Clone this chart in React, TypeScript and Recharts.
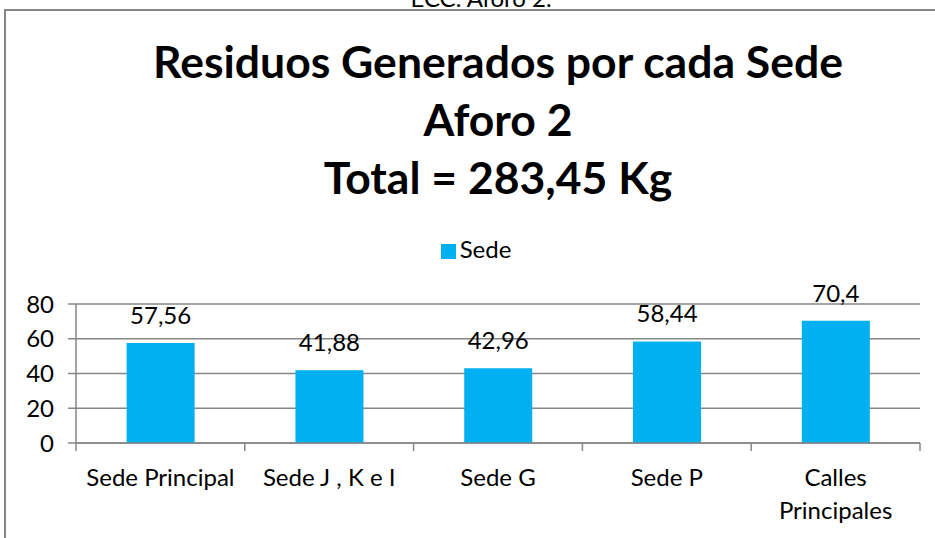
import { BarChart, Bar, XAxis, YAxis, CartesianGrid, Legend, LabelList } from 'recharts';

const categories = ['Sede Principal', 'Sede J , K e I', 'Sede G', 'Sede P', 'Calles Principales'];
const sedeValues = [57.56, 41.88, 42.96, 58.44, 70.4];
const yTicks = [0, 20, 40, 60, 80];
const titleLines = ['Residuos Generados por cada Sede', 'Aforo 2', 'Total = 283,45 Kg'];

const data = categories.map((name, i) => ({ name, sede: sedeValues[i] }));

const FONT = 'Lato, "Open Sans", sans-serif';
const GRID = '#868686';
const X_TICK_MARGIN = 26;

const fmt = (v: any) => String(v).replace('.', ',');

// category label plus the tick marks at the category boundaries
const CategoryTick = (props: any) => {
  const { x, y, payload, index, visibleTicksCount } = props;
  const label = String(payload.value);
  const lines = label.length > 16 ? label.split(' ') : [label];
  const half = payload.offset || 0;
  const axisY = y - X_TICK_MARGIN;
  const isLast = index === visibleTicksCount - 1;
  return (
    <g>
      {half > 0 && <line x1={x - half} x2={x - half} y1={axisY} y2={axisY + 8} stroke={GRID} strokeWidth={1.5} />}
      {half > 0 && isLast && <line x1={x + half} x2={x + half} y1={axisY} y2={axisY + 8} stroke={GRID} strokeWidth={1.5} />}
      <text x={x} y={y} textAnchor="middle" fill="#000" style={{ fontSize: 24, fontFamily: FONT }}>
        {lines.map((l, i) => (
          <tspan key={i} x={x} dy={i === 0 ? '0.71em' : 33}>{l}</tspan>
        ))}
      </text>
    </g>
  );
};

export default function App() {
  return (
    <div style={{ position: 'absolute', left: 0, top: 0, width: 935, height: 538, overflow: 'hidden', background: '#fff', fontFamily: FONT }}>
      {/* clipped caption above the frame */}
      <div style={{ position: 'absolute', top: -17, left: 0, width: 962, textAlign: 'center', fontSize: 24, color: '#000' }}>
        ECC. Aforo 2.
      </div>
      {/* chart frame */}
      <div style={{ position: 'absolute', left: 4, top: 9, width: 940, height: 540, borderLeft: `2px solid ${GRID}`, borderTop: `2px solid ${GRID}` }} />
      {titleLines.map((t, i) => (
        <div key={i} style={{ position: 'absolute', left: 0, width: 996, top: 35 + i * 58, textAlign: 'center', fontSize: 44.5, fontWeight: 700, lineHeight: '52px', color: '#000' }}>
          {t}
        </div>
      ))}
      <div style={{ position: 'absolute', left: 0, top: 0 }}>
        <BarChart width={935} height={538} data={data} margin={{ top: 275, right: 15, bottom: 0, left: 0 }} barCategoryGap="30%">
          <CartesianGrid vertical={false} stroke={GRID} strokeWidth={1.5} />
          <XAxis dataKey="name" height={95} tickLine={false} tickSize={0} tickMargin={X_TICK_MARGIN} axisLine={{ stroke: GRID, strokeWidth: 1.5 }} tick={<CategoryTick />} interval={0} />
          <YAxis domain={[0, 80]} ticks={yTicks} interval={0} width={76} tickSize={8} tickMargin={14} axisLine={{ stroke: GRID, strokeWidth: 1.5 }} tickLine={{ stroke: GRID, strokeWidth: 1.5 }} tick={{ fontSize: 24, fill: '#000', fontFamily: FONT }} />
          <Legend
            verticalAlign="top"
            iconType="square"
            iconSize={15}
            wrapperStyle={{ position: 'absolute', top: 234, left: 0, width: 962, fontSize: 24, fontFamily: FONT }}
            formatter={(v: any) => <span style={{ color: '#000' }}>{v}</span>}
          />
          <Bar dataKey="sede" name="Sede" fill="#00B0F0" isAnimationActive={false}>
            <LabelList dataKey="sede" position="top" offset={19} formatter={fmt} style={{ fontSize: 24, fill: '#000', fontFamily: FONT }} />
          </Bar>
        </BarChart>
      </div>
    </div>
  );
}
